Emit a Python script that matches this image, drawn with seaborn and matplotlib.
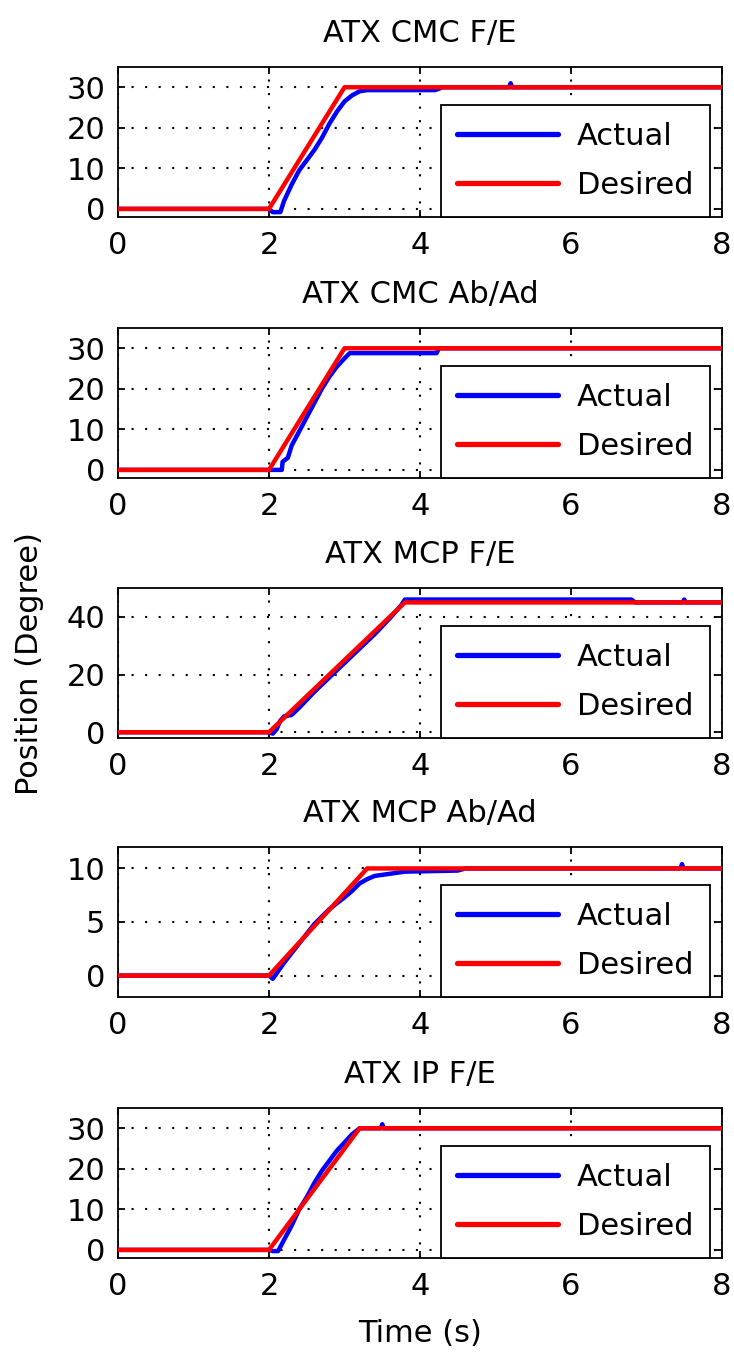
import numpy as np
import pandas as pd
import matplotlib
matplotlib.use("Agg")
import matplotlib.pyplot as plt
import seaborn as sns

# ---------------- data ----------------
titles = ["ATX CMC F/E", "ATX CMC Ab/Ad", "ATX MCP F/E", "ATX MCP Ab/Ad", "ATX IP F/E"]

# desired trajectories (ramp from t=2 s to target, then hold)
des_t1 = [0, 2.0, 3.0, 8.0]
des_y1 = [0, 0, 30, 30]
des_t2 = [0, 2.0, 3.0, 8.0]
des_y2 = [0, 0, 30, 30]
des_t3 = [0, 2.0, 3.8, 8.0]
des_y3 = [0, 0, 45, 45]
des_t4 = [0, 2.0, 3.3, 8.0]
des_y4 = [0, 0, 10, 10]
des_t5 = [0, 2.0, 3.2, 8.0]
des_y5 = [0, 0, 30, 30]

act_t1 = [0, 2.0, 2.05, 2.15, 2.2, 2.3, 2.4, 2.5, 2.6, 2.7, 2.8, 2.9, 3.0, 3.1, 3.2, 3.3, 4.2, 4.3, 5.18, 5.2, 5.22, 8.0]
act_y1 = [0, 0, -0.8, -0.8, 2, 6, 9.5, 12, 14.5, 17.5, 21, 24, 26.5, 28, 29, 29.3, 29.3, 30, 30, 31, 30, 30]

act_t2 = [0, 2.0, 2.17, 2.18, 2.25, 2.3, 2.4, 2.5, 2.6, 2.7, 2.8, 2.9, 3.0, 3.07, 4.22, 4.25, 8.0]
act_y2 = [0, 0, 0, 2, 3, 6, 9.5, 13, 16.5, 20, 23, 25.5, 27.5, 28.8, 28.8, 30, 30]

act_t3 = [0, 2.0, 2.05, 2.1, 2.15, 2.2, 2.3, 2.4, 2.6, 2.8, 3.0, 3.2, 3.4, 3.6, 3.75, 3.8, 6.8, 6.85, 7.48, 7.5, 7.52, 8.0]
act_y3 = [0, 0, -0.5, 1, 4, 5.5, 6, 8.5, 14, 19, 24, 29, 34, 39.5, 44, 46, 46, 45, 45, 46, 45, 45]

act_t4 = [0, 2.0, 2.05, 2.1, 2.2, 2.4, 2.6, 2.8, 3.0, 3.1, 3.2, 3.3, 3.4, 3.6, 3.8, 4.5, 4.6, 7.45, 7.47, 7.49, 8.0]
act_y4 = [0, 0, -0.3, 0.2, 1.2, 3.0, 4.8, 6.2, 7.3, 7.9, 8.6, 9.0, 9.3, 9.5, 9.7, 9.8, 10, 10, 10.4, 10, 10]

act_t5 = [0, 2.0, 2.05, 2.12, 2.2, 2.3, 2.4, 2.5, 2.6, 2.7, 2.8, 2.9, 3.0, 3.1, 3.2, 3.48, 3.5, 3.52, 8.0]
act_y5 = [0, 0, -0.3, -0.3, 2.5, 6, 10, 13, 16.5, 19.5, 22, 24.5, 26.5, 28.5, 30, 30, 31, 30, 30]

ylims = [(-2, 35), (-2, 35), (-2, 50), (-2, 12), (-2, 35)]
yticks = [[0, 10, 20, 30], [0, 10, 20, 30], [0, 20, 40], [0, 5, 10], [0, 10, 20, 30]]
xticks = [0, 2, 4, 6, 8]

desired = [(des_t1, des_y1), (des_t2, des_y2), (des_t3, des_y3), (des_t4, des_y4), (des_t5, des_y5)]
actual = [(act_t1, act_y1), (act_t2, act_y2), (act_t3, act_y3), (act_t4, act_y4), (act_t5, act_y5)]

# ---------------- style ----------------
sns.set_style("ticks")
plt.rcParams["font.family"] = ["DejaVu Sans"]
plt.rcParams["font.size"] = 22
plt.rcParams["text.color"] = "black"
plt.rcParams["axes.labelcolor"] = "black"
plt.rcParams["axes.titlecolor"] = "black"

FS = 22
W, H = 734, 1357
fig = plt.figure(figsize=(W / 100, H / 100), dpi=100)

left_px, right_px = 118, 722
tops = [67, 328, 588, 847, 1108]
height_px = 150

grid_style = dict(color="black", linestyle=(0, (1, 5.5)), linewidth=1.5)

for i in range(5):
    top = tops[i]
    ax = fig.add_axes([left_px / W, 1 - (top + height_px) / H,
                       (right_px - left_px) / W, height_px / H])
    at, ay = actual[i]
    dt, dy = desired[i]
    df_a = pd.DataFrame({"t": at, "pos": ay})
    df_d = pd.DataFrame({"t": dt, "pos": dy})
    sns.lineplot(data=df_a, x="t", y="pos", ax=ax, color=(0, 0, 1), linewidth=3.2,
                 sort=False, estimator=None, label="Actual", zorder=3)
    sns.lineplot(data=df_d, x="t", y="pos", ax=ax, color=(1, 0, 0), linewidth=3.2,
                 sort=False, estimator=None, label="Desired", zorder=4)
    ax.set_xlim(0, 8)
    ax.set_ylim(*ylims[i])
    ax.set_xticks(xticks)
    ax.set_yticks(yticks[i])
    ax.set_xlabel("")
    ax.set_ylabel("")
    ax.grid(True, **grid_style)
    ax.set_axisbelow(True)
    for sp in ax.spines.values():
        sp.set_visible(True)
        sp.set_linewidth(1.3)
        sp.set_color("black")
    ax.tick_params(direction="in", length=5, width=1.3, top=True, right=True,
                   labelsize=FS, colors="black")
    ax.tick_params(axis="x", pad=10)
    ax.tick_params(axis="y", pad=9)
    ax.set_title(titles[i], fontsize=FS, pad=18, color="black")
    leg = ax.legend(loc="lower right", bbox_to_anchor=(0.98, 0.003), fontsize=FS,
                    frameon=True, fancybox=False, edgecolor="black", framealpha=1,
                    borderaxespad=0, handlelength=3.3, handletextpad=0.6,
                    labelspacing=0.65, borderpad=0.55)
    leg.get_frame().set_linewidth(1.3)
    for txt in leg.get_texts():
        txt.set_color("black")
    for ln in leg.get_lines():
        ln.set_linewidth(3.8)
    if i == 4:
        ax.set_xlabel("Time (s)", fontsize=FS, labelpad=13, color="black")

fig.text(30 / W, 1 - 664 / H, "Position (Degree)", rotation=90, fontsize=FS,
         ha="center", va="center", color="black")

fig.savefig("out.png", dpi=100)
